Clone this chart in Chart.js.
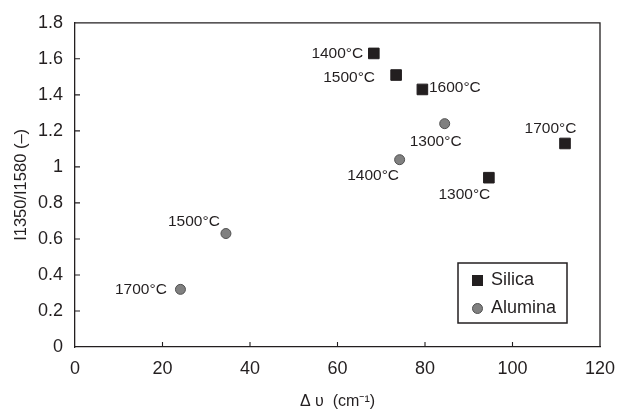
<!DOCTYPE html>
<html>
<head>
<meta charset="utf-8">
<script src="https://cdn.jsdelivr.net/npm/chart.js@4.4.1/dist/chart.umd.min.js"></script>
<style>
html, body { margin: 0; padding: 0; background: #fff; }
#wrap { width: 627px; height: 412px; }
</style>
</head>
<body>
<div id="wrap"><canvas id="chart" width="627" height="412"></canvas></div>
<script>
// Silica (squares)
const silicaShift = [68.3, 73.4, 79.4, 112.0, 94.6];
const silicaRatio = [1.63, 1.51, 1.43, 1.13, 0.94];
const silicaTemps = ['1400°C', '1500°C', '1600°C', '1700°C', '1300°C'];

// Alumina (circles)
const aluminaShift = [84.5, 74.2, 34.5, 24.1];
const aluminaRatio = [1.24, 1.04, 0.63, 0.32];
const aluminaTemps = ['1300°C', '1400°C', '1500°C', '1700°C'];

const seriesNames = ['Silica', 'Alumina'];
const yTickLabels = ['0', '0.2', '0.4', '0.6', '0.8', '1', '1.2', '1.4', '1.6', '1.8'];
const xTickLabels = ['0', '20', '40', '60', '80', '100', '120'];

// where each temperature label sits relative to its marker (px)
const silicaLabelOffsets = [[-36.5, 0], [-47, 2.5], [32.5, -2], [-14.5, -14.5], [-24.5, 17]];
const aluminaLabelOffsets = [[-9, 18], [-26.5, 16], [-32, -11.5], [-39.5, 0]];

const ink = '#231f20';
const fontFamily = '"Liberation Sans", Arial, sans-serif';

const toPoints = (xs, ys) => xs.map((x, i) => ({ x, y: ys[i] }));

const frameAndTicks = {
    id: 'frameAndTicks',
    beforeDatasetsDraw(chart) {
        const { ctx, chartArea: a, scales } = chart;
        ctx.save();
        ctx.strokeStyle = ink;
        ctx.lineWidth = 1.3;
        ctx.beginPath();
        ctx.moveTo(a.left, a.top);
        ctx.lineTo(a.right, a.top);
        ctx.lineTo(a.right, a.bottom);
        ctx.stroke();
        // inward tick marks
        ctx.lineWidth = 1.1;
        ctx.beginPath();
        scales.x.ticks.forEach(t => {
            if (t.value <= scales.x.min || t.value >= scales.x.max) return;
            const px = scales.x.getPixelForValue(t.value);
            ctx.moveTo(px, a.bottom);
            ctx.lineTo(px, a.bottom - 5);
        });
        scales.y.ticks.forEach(t => {
            if (t.value <= scales.y.min || t.value >= scales.y.max) return;
            const py = scales.y.getPixelForValue(t.value);
            ctx.moveTo(a.left, py);
            ctx.lineTo(a.left + 5, py);
        });
        ctx.stroke();
        ctx.restore();
    }
};

const tempLabels = {
    id: 'tempLabels',
    afterDatasetsDraw(chart) {
        const { ctx } = chart;
        const texts = [silicaTemps, aluminaTemps];
        const offsets = [silicaLabelOffsets, aluminaLabelOffsets];
        ctx.save();
        ctx.fillStyle = ink;
        ctx.font = '15.5px ' + fontFamily;
        ctx.textAlign = 'center';
        ctx.textBaseline = 'middle';
        chart.data.datasets.forEach((ds, i) => {
            chart.getDatasetMeta(i).data.forEach((pt, j) => {
                const [dx, dy] = offsets[i][j];
                ctx.fillText(texts[i][j], pt.x + dx, pt.y + dy);
            });
        });
        ctx.restore();
    }
};

const boxedLegend = {
    id: 'boxedLegend',
    afterDraw(chart) {
        const { ctx, chartArea: a } = chart;
        const w = 109, h = 60;
        const left = a.right - 33 - w;
        const top = a.bottom - 24 - h;
        ctx.save();
        ctx.fillStyle = '#fff';
        ctx.fillRect(left, top, w, h);
        ctx.strokeStyle = ink;
        ctx.lineWidth = 1.5;
        ctx.strokeRect(left, top, w, h);
        ctx.font = '18px ' + fontFamily;
        ctx.textBaseline = 'middle';
        chart.data.datasets.forEach((ds, i) => {
            const cy = top + 17.5 + i * 28;
            const cx = left + 19.5;
            ctx.fillStyle = ds.backgroundColor;
            ctx.strokeStyle = ds.borderColor;
            ctx.lineWidth = 1;
            if (ds.pointStyle === 'rect') {
                ctx.fillRect(cx - 5.5, cy - 5.5, 11, 11);
            } else {
                ctx.beginPath();
                ctx.arc(cx, cy, 5, 0, Math.PI * 2);
                ctx.fill();
                ctx.stroke();
            }
            ctx.fillStyle = ink;
            ctx.fillText(ds.label, left + 33, cy);
        });
        ctx.restore();
    }
};

new Chart(document.getElementById('chart'), {
    type: 'scatter',
    data: {
        datasets: [{
            label: seriesNames[0],
            data: toPoints(silicaShift, silicaRatio),
            pointStyle: 'rect',
            pointRadius: 7.5,
            borderWidth: 1,
            backgroundColor: ink,
            borderColor: ink
        }, {
            label: seriesNames[1],
            data: toPoints(aluminaShift, aluminaRatio),
            pointStyle: 'circle',
            pointRadius: 5,
            borderWidth: 1,
            backgroundColor: '#808080',
            borderColor: '#505050'
        }]
    },
    options: {
        responsive: false,
        animation: false,
        layout: { padding: { top: 17, right: 27, left: 0, bottom: 0 } },
        plugins: {
            legend: { display: false },
            tooltip: { enabled: false }
        },
        scales: {
            x: {
                type: 'linear',
                min: 0,
                max: 120,
                afterFit: scale => { scale.height = 65; },
                ticks: {
                    stepSize: 20,
                    color: ink,
                    padding: 11,
                    font: { family: fontFamily, size: 18 },
                    callback: (v, i) => xTickLabels[i]
                },
                grid: { display: false, drawTicks: false },
                border: { display: true, color: ink, width: 1.3 },
                title: {
                    display: true,
                    text: 'Δ υ  (cm⁻¹)',
                    color: ink,
                    font: { family: fontFamily, size: 16 },
                    padding: { top: 0, bottom: 0.5 }
                }
            },
            y: {
                min: 0,
                max: 1.8,
                afterFit: scale => { scale.width = 75; },
                ticks: {
                    stepSize: 0.2,
                    color: ink,
                    padding: 12,
                    font: { family: fontFamily, size: 18 },
                    callback: (v, i) => yTickLabels[i]
                },
                grid: { display: false, drawTicks: false },
                border: { display: true, color: ink, width: 1.3 },
                title: {
                    display: true,
                    text: 'I1350/I1580 (–)',
                    color: ink,
                    font: { family: fontFamily, size: 16.5 },
                    padding: { top: 12, bottom: 0 }
                }
            }
        }
    },
    plugins: [frameAndTicks, tempLabels, boxedLegend]
});
</script>
</body>
</html>
